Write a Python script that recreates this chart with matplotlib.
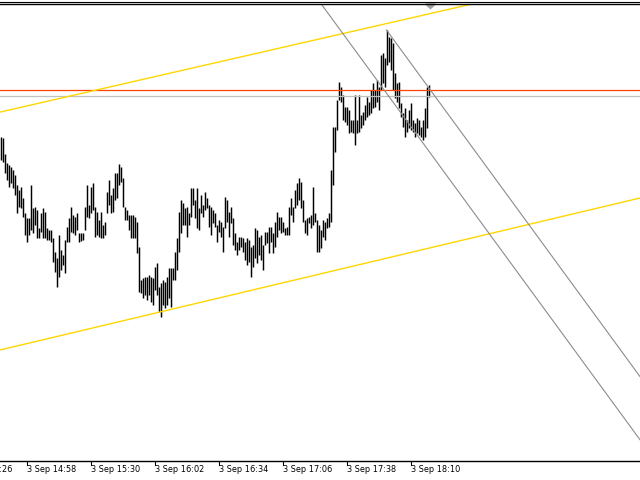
import matplotlib
matplotlib.use("Agg")
import matplotlib.pyplot as plt
import matplotlib.transforms as mtransforms
from matplotlib.patches import Polygon
from matplotlib.lines import Line2D

# M1 bars, 3 Sep, first bar 14:45 (price in chart points)
high = [343, 342, 326, 317, 315, 313, 310, 305, 295, 290, 293, 282, 267, 262, 262, 295, 272, 273,
        270, 252, 267, 272, 268, 252, 250, 250, 242, 228, 222, 245, 230, 225, 240, 253, 262, 273,
        265, 263, 267, 247, 247, 247, 273, 295, 275, 293, 297, 273, 268, 260, 268, 255, 258, 288,
        300, 285, 292, 307, 307, 316, 313, 302, 273, 270, 265, 265, 265, 263, 258, 233, 200, 202,
        203, 203, 205, 203, 202, 213, 217, 193, 197, 200, 198, 203, 212, 212, 212, 228, 242, 268,
        280, 277, 272, 273, 267, 292, 292, 280, 292, 272, 285, 275, 288, 282, 275, 273, 270, 267,
        255, 260, 258, 253, 283, 280, 268, 273, 262, 247, 238, 243, 243, 242, 238, 242, 240, 233,
        235, 252, 250, 243, 245, 235, 248, 248, 253, 253, 247, 258, 268, 263, 263, 258, 252, 253,
        273, 282, 273, 290, 297, 302, 298, 280, 260, 262, 263, 265, 293, 267, 260, 255, 250, 260,
        258, 262, 267, 310, 353, 353, 380, 398, 393, 385, 373, 373, 370, 360, 360, 385, 360, 385,
        365, 368, 375, 383, 378, 390, 397, 390, 400, 393, 425, 427, 422, 450, 443, 442, 437, 407,
        397, 398, 377, 367, 372, 360, 370, 377, 360, 357, 362, 360, 353, 360, 372, 393, 395]
low = [320, 318, 307, 300, 293, 297, 292, 285, 267, 273, 272, 263, 245, 238, 245, 250, 247, 255,
       242, 242, 248, 242, 242, 240, 240, 238, 218, 208, 193, 203, 210, 215, 207, 238, 238, 248,
       247, 245, 250, 238, 239, 240, 250, 263, 262, 267, 270, 243, 245, 243, 242, 242, 245, 267,
       275, 267, 268, 280, 282, 295, 298, 273, 260, 260, 250, 242, 242, 242, 227, 188, 187, 182,
       185, 180, 185, 178, 175, 190, 185, 168, 163, 175, 172, 175, 182, 173, 200, 200, 210, 228,
       247, 255, 255, 243, 255, 263, 275, 262, 252, 250, 267, 263, 270, 272, 253, 245, 257, 253,
       238, 248, 243, 228, 252, 258, 243, 257, 235, 230, 225, 230, 233, 228, 220, 215, 218, 203,
       213, 222, 217, 225, 220, 210, 235, 237, 227, 238, 227, 233, 243, 250, 247, 248, 245, 245,
       245, 265, 258, 272, 275, 280, 272, 258, 247, 245, 257, 252, 255, 258, 228, 228, 232, 243,
       240, 252, 253, 258, 295, 328, 350, 380, 378, 360, 358, 355, 347, 348, 347, 335, 347, 348,
       352, 355, 360, 363, 365, 367, 372, 373, 378, 370, 390, 397, 393, 415, 418, 410, 390, 382,
       378, 372, 363, 353, 343, 348, 352, 350, 348, 343, 347, 345, 343, 340, 343, 352, 383]

# time axis labels (bar index -> label)
tick_bars = [-19, 13, 45, 77, 109, 141, 173, 205]
tick_labels = ["3 Sep 14:26", "3 Sep 14:58", "3 Sep 15:30", "3 Sep 16:02", "3 Sep 16:34",
               "3 Sep 17:06", "3 Sep 17:38", "3 Sep 18:10"]

# objects on the chart: (bar, price) anchors
channel_upper = [(0, 368), (200, 459.6)]
channel_lower = [(0, 130.1), (200, 225.1)]
down_line = [(224.75, 300), (262.75, 196.1)]
down_ray = [(193, 450), (231, 346.1)]
level_red = 390.5
level_gray = 384.5
shift_bar = 215

fig = plt.figure(figsize=(6.4, 4.8), dpi=100)
ax = fig.add_axes([0, 19 / 480, 1, 457 / 480])
ax.set_xlim(-0.25, 319.75)
ax.set_ylim(19, 476)

x = list(range(len(high)))
ax.vlines(x, low, high, colors="#000000", linewidth=1.05)

ax.axhline(level_gray, color="#c0c0c0", linewidth=0.9)
ax.axhline(level_red, color="#ff4500", linewidth=0.9)

ax.axline(channel_upper[0], channel_upper[1], color="#ffd700", linewidth=1.0)
ax.axline(channel_lower[0], channel_lower[1], color="#ffd700", linewidth=1.0)
ax.axline(down_line[0], down_line[1], color="#8c8c8c", linewidth=0.8)
# ray from the peak to the right
p0, p1 = down_ray
slope = (p1[1] - p0[1]) / (p1[0] - p0[0])
ax.plot([p0[0], 330], [p0[1], p0[1] + slope * (330 - p0[0])], color="#8c8c8c", linewidth=0.8)

# shift marker at top
trans = mtransforms.blended_transform_factory(ax.transData, ax.transAxes)
ax.add_patch(Polygon([(shift_bar - 2.5, 1.0), (shift_bar + 2.5, 1.0), (shift_bar, 0.990)],
                     closed=True, transform=trans, color="#a0a0a0", clip_on=False))

for s in ["left", "right"]:
    ax.spines[s].set_visible(False)
ax.spines["top"].set_linewidth(1.0)
ax.spines["bottom"].set_linewidth(1.0)
ax.set_yticks([])
ax.set_xticks([])

for b, lab in zip(tick_bars, tick_labels):
    ax.plot([b, b], [0, -0.009], transform=trans, color="black", linewidth=0.8, clip_on=False)
    ax.text(b + 0.2, -0.018, lab, transform=trans, ha="left", va="center",
            fontsize=5.9, family="DejaVu Sans", color="black", clip_on=False)

fig.add_artist(Line2D([0, 1], [1 - 1.5 / 480, 1 - 1.5 / 480], transform=fig.transFigure,
                      color="black", linewidth=0.8))

fig.savefig("out.png", dpi=100, facecolor="white")
